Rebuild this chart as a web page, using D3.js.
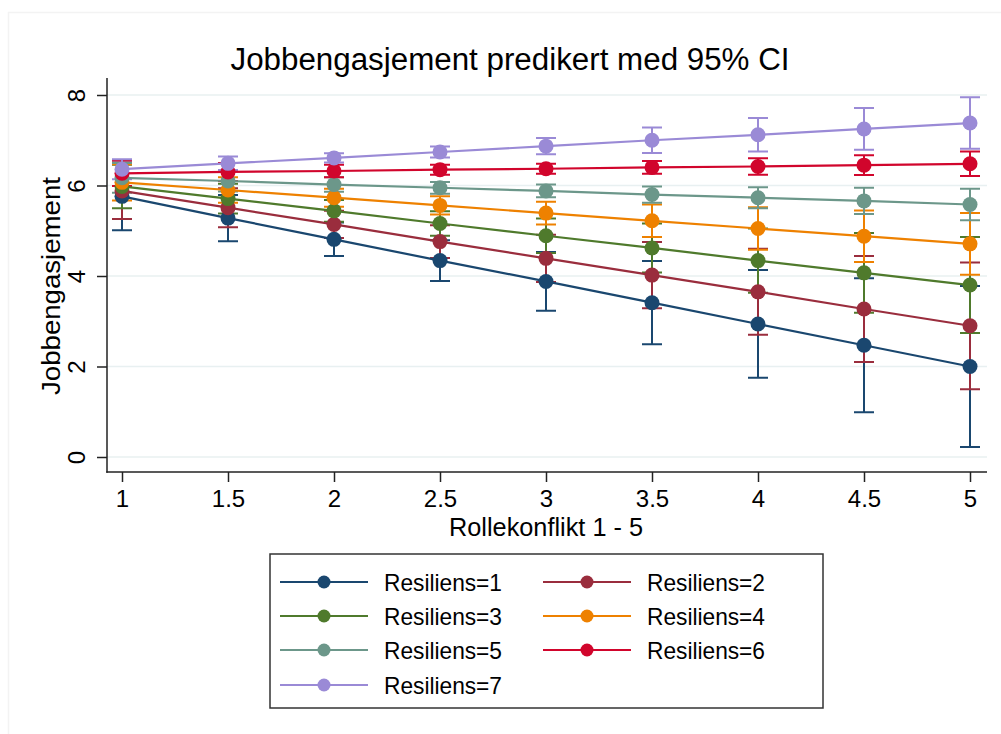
<!DOCTYPE html>
<html>
<head>
<meta charset="utf-8">
<script src="https://cdn.jsdelivr.net/npm/d3@7"></script>
<style>
    body { margin: 0; background: #fff; }
    svg text { font-family: "Liberation Sans", Arial, Helvetica, sans-serif; fill: #000; }
</style>
</head>
<body>
<div id="chart"></div>
<script>
// values
const xVals = [1, 1.5, 2, 2.5, 3, 3.5, 4, 4.5, 5];
const xTicks = [1, 1.5, 2, 2.5, 3, 3.5, 4, 4.5, 5];
const yTicks = [0, 2, 4, 6, 8];
const seriesNames = ["Resiliens=1", "Resiliens=2", "Resiliens=3", "Resiliens=4", "Resiliens=5", "Resiliens=6", "Resiliens=7"];
const colors = ["#1a476f", "#9a2d3d", "#4f7a2c", "#ee8100", "#6c978a", "#d1052c", "#9a8ad6"];

const mean1 = [5.76, 5.28, 4.81, 4.34, 3.88, 3.41, 2.94, 2.47, 2.00];
const lo1   = [5.01, 4.77, 4.44, 3.89, 3.23, 2.49, 1.75, 0.99, 0.22];
const hi1   = [6.51, 5.79, 5.18, 4.79, 4.53, 4.33, 4.13, 3.95, 3.78];

const mean2 = [5.88, 5.51, 5.14, 4.76, 4.39, 4.02, 3.65, 3.27, 2.90];
const lo2   = [5.26, 5.08, 4.84, 4.40, 3.87, 3.29, 2.70, 2.10, 1.50];
const hi2   = [6.50, 5.94, 5.44, 5.12, 4.91, 4.75, 4.60, 4.44, 4.30];

const mean3 = [5.98, 5.71, 5.44, 5.16, 4.89, 4.62, 4.34, 4.07, 3.80];
const lo3   = [5.50, 5.38, 5.20, 4.89, 4.51, 4.08, 3.63, 3.19, 2.74];
const hi3   = [6.46, 6.04, 5.68, 5.43, 5.27, 5.16, 5.05, 4.95, 4.86];

const mean4 = [6.07, 5.90, 5.73, 5.56, 5.39, 5.22, 5.05, 4.88, 4.71];
const lo4   = [5.67, 5.62, 5.53, 5.36, 5.14, 4.86, 4.58, 4.31, 4.03];
const hi4   = [6.47, 6.18, 5.93, 5.76, 5.64, 5.58, 5.52, 5.45, 5.39];

const mean5 = [6.17, 6.10, 6.02, 5.95, 5.88, 5.80, 5.73, 5.66, 5.58];
const lo5   = [5.84, 5.87, 5.86, 5.82, 5.74, 5.62, 5.50, 5.37, 5.23];
const hi5   = [6.50, 6.33, 6.18, 6.08, 6.02, 5.98, 5.96, 5.95, 5.93];

const mean6 = [6.27, 6.30, 6.32, 6.35, 6.37, 6.40, 6.42, 6.45, 6.48];
const lo6   = [5.99, 6.10, 6.18, 6.24, 6.26, 6.26, 6.24, 6.23, 6.21];
const hi6   = [6.55, 6.50, 6.46, 6.46, 6.48, 6.54, 6.60, 6.67, 6.75];

const mean7 = [6.36, 6.49, 6.61, 6.74, 6.87, 7.00, 7.12, 7.25, 7.38];
const lo7   = [6.14, 6.34, 6.51, 6.62, 6.69, 6.72, 6.75, 6.79, 6.81];
const hi7   = [6.58, 6.64, 6.71, 6.86, 7.05, 7.28, 7.49, 7.71, 7.95];

const means = [mean1, mean2, mean3, mean4, mean5, mean6, mean7];
const lows = [lo1, lo2, lo3, lo4, lo5, lo6, lo7];
const highs = [hi1, hi2, hi3, hi4, hi5, hi6, hi7];

// build rows for d3
let series = seriesNames.map(function(name, i) {
    return {
        name: name,
        color: colors[i],
        points: xVals.map(function(x, j) {
            return { x: x, y: means[i][j], lo: lows[i][j], hi: highs[i][j] };
        })
    };
});

const width = 1001,
    height = 734;

const svg = d3.select("#chart").append("svg")
    .attr("width", width)
    .attr("height", height);

// faint outer frame
svg.append("rect")
    .attr("x", 8.5).attr("y", 12.5)
    .attr("width", 1000).attr("height", 730)
    .attr("fill", "none")
    .attr("stroke", "#f3f3f3")
    .attr("stroke-width", 1.5);

const x = d3.scaleLinear().domain([1, 5]).range([122, 970]);
const y = d3.scaleLinear().domain([0, 8]).range([457, 95]);

const plotLeft = 107, plotRight = 987, plotBottom = 472, plotTop = 78;

// gridlines
svg.append("g")
    .selectAll("line")
    .data(yTicks)
    .enter().append("line")
    .attr("x1", plotLeft).attr("x2", plotRight)
    .attr("y1", function(d) { return y(d); })
    .attr("y2", function(d) { return y(d); })
    .attr("stroke", "#e8f0f1")
    .attr("stroke-width", 1.5);

// y axis
let yAxis = svg.append("g")
    .attr("transform", "translate(" + plotLeft + ",0)")
    .call(d3.axisLeft(y).tickValues(yTicks).tickSize(10).tickPadding(0).tickFormat(d3.format("d")));
yAxis.select(".domain").remove();
yAxis.selectAll(".tick line").attr("stroke", "#222").attr("stroke-width", 1.5);
yAxis.selectAll(".tick text")
    .attr("x", 0).attr("y", 0).attr("dy", null)
    .attr("transform", "translate(-22,0) rotate(-90)")
    .attr("text-anchor", "middle")
    .style("font-size", "24px");
svg.append("line")
    .attr("x1", plotLeft).attr("x2", plotLeft)
    .attr("y1", plotTop).attr("y2", plotBottom + 0.75)
    .attr("stroke", "#222").attr("stroke-width", 1.5);

// x axis
let xAxis = svg.append("g")
    .attr("transform", "translate(0," + plotBottom + ")")
    .call(d3.axisBottom(x).tickValues(xTicks).tickSize(10).tickPadding(0).tickFormat(d3.format("")));
xAxis.select(".domain").remove();
xAxis.selectAll(".tick line").attr("stroke", "#222").attr("stroke-width", 1.5);
xAxis.selectAll(".tick text")
    .attr("y", 35).attr("dy", null)
    .style("font-size", "24px");
svg.append("line")
    .attr("x1", plotLeft - 0.75).attr("x2", plotRight)
    .attr("y1", plotBottom).attr("y2", plotBottom)
    .attr("stroke", "#222").attr("stroke-width", 1.5);

// titles
svg.append("text")
    .attr("x", 510).attr("y", 70)
    .attr("text-anchor", "middle")
    .attr("textLength", 559)
    .attr("lengthAdjust", "spacingAndGlyphs")
    .style("font-size", "31px")
    .text("Jobbengasjement predikert med 95% CI");

svg.append("text")
    .attr("x", 546).attr("y", 536)
    .attr("text-anchor", "middle")
    .attr("textLength", 194)
    .attr("lengthAdjust", "spacingAndGlyphs")
    .style("font-size", "25px")
    .text("Rollekonflikt 1 - 5");

svg.append("text")
    .attr("transform", "translate(60,286) rotate(-90)")
    .attr("text-anchor", "middle")
    .attr("textLength", 218)
    .attr("lengthAdjust", "spacingAndGlyphs")
    .style("font-size", "25px")
    .text("Jobbengasjement");

// confidence intervals (capped spikes)
const capHalf = 10;
let ci = svg.append("g").attr("class", "ci")
    .selectAll("g")
    .data(series)
    .enter().append("g")
    .attr("stroke", function(d) { return d.color; })
    .attr("stroke-width", 2)
    .attr("fill", "none");

ci.selectAll("path")
    .data(function(d) { return d.points; })
    .enter().append("path")
    .attr("d", function(p) {
        let cx = x(p.x), yl = y(p.lo), yh = y(p.hi);
        return "M" + cx + "," + yl + "V" + yh +
            "M" + (cx - capHalf) + "," + yh + "H" + (cx + capHalf) +
            "M" + (cx - capHalf) + "," + yl + "H" + (cx + capHalf);
    });

// lines and markers
const line = d3.line()
    .x(function(p) { return x(p.x); })
    .y(function(p) { return y(p.y); });

let lines = svg.append("g").attr("class", "series")
    .selectAll("g")
    .data(series)
    .enter().append("g");

lines.append("path")
    .attr("d", function(d) { return line(d.points); })
    .attr("fill", "none")
    .attr("stroke", function(d) { return d.color; })
    .attr("stroke-width", 2.2);

lines.selectAll("circle")
    .data(function(d) { return d.points.map(function(p) { return { p: p, color: d.color }; }); })
    .enter().append("circle")
    .attr("cx", function(d) { return x(d.p.x); })
    .attr("cy", function(d) { return y(d.p.y); })
    .attr("r", 7.5)
    .attr("fill", function(d) { return d.color; });

// legend
const legend = svg.append("g").attr("class", "legend");
legend.append("rect")
    .attr("x", 270).attr("y", 554)
    .attr("width", 553).attr("height", 154)
    .attr("fill", "#fff")
    .attr("stroke", "#333")
    .attr("stroke-width", 1.5);

const rowY = [582, 616, 650, 685];
const colX = [280, 543];

let item = legend.selectAll("g.item")
    .data(series)
    .enter().append("g")
    .attr("class", "item")
    .attr("transform", function(d, i) {
        return "translate(" + colX[i % 2] + "," + rowY[Math.floor(i / 2)] + ")";
    });

item.append("line")
    .attr("x1", 0).attr("x2", 88)
    .attr("y1", 0).attr("y2", 0)
    .attr("stroke", function(d) { return d.color; })
    .attr("stroke-width", 2);

item.append("circle")
    .attr("cx", 44).attr("cy", 0)
    .attr("r", 6.5)
    .attr("fill", function(d) { return d.color; });

item.append("text")
    .attr("x", 104).attr("y", 9)
    .attr("textLength", 118)
    .attr("lengthAdjust", "spacingAndGlyphs")
    .style("font-size", "24px")
    .text(function(d) { return d.name; });
</script>
</body>
</html>
